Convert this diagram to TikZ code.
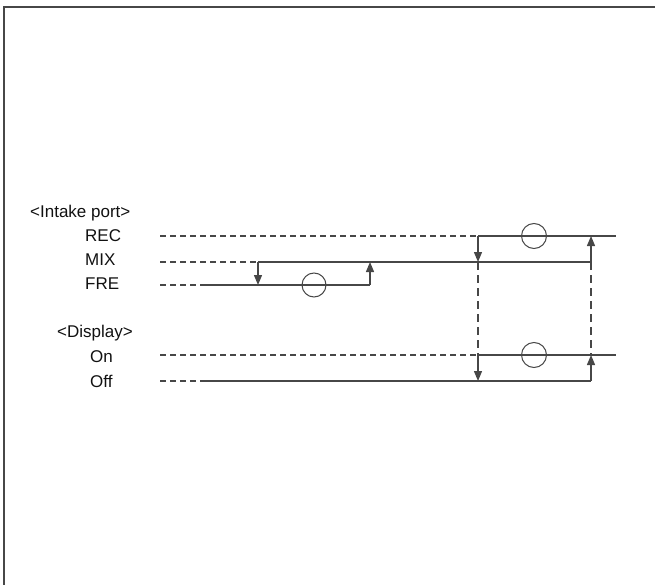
\documentclass[tikz,border=0pt]{standalone}
\usepackage{fontspec}
\setmainfont{Liberation Sans}
\usetikzlibrary{arrows.meta}
\definecolor{ln}{HTML}{474747}
\definecolor{tx}{HTML}{111111}
\tikzset{
  lbl/.style={anchor=west, inner sep=0pt, text=tx, font=\fontsize{17}{19}\selectfont},
  sig/.style={draw=ln, line width=1.3pt},
  dsh/.style={draw=ln, line width=1.3pt, dash pattern=on 6pt off 4pt},
  vdsh/.style={draw=ln, line width=1.3pt, dash pattern=on 8pt off 5pt},
  arr/.style={sig, -{Triangle[width=8pt,length=10pt]}},
  ring/.style={draw=ln, line width=1pt},
}
\begin{document}
\begin{tikzpicture}[x=1pt,y=-1pt]
\useasboundingbox (0,0) rectangle (655,585);
% frame
\draw[draw=ln, line width=1.6pt] (4,585) -- (4,7) -- (655,7);
% labels
\node[lbl] (tint) at (30,213) {<Intake port>};
\node[lbl] (trec) at (85,236) {REC};
\node[lbl] (tmix) at (85,260) {MIX};
\node[lbl] (tfre) at (85,284) {FRE};
\node[lbl] (tdis) at (57,333) {<Display>};
\node[lbl] (ton) at (90,357) {On};
\node[lbl] (toff) at (90,381) {Off};
% coordinates
\coordinate (r0) at (160,236); \coordinate (r1) at (478,236); \coordinate (r2) at (591,236); \coordinate (r3) at (616,236);
\coordinate (m0) at (160,262); \coordinate (m1) at (258,262); \coordinate (m2) at (370,262); \coordinate (m3) at (478,262); \coordinate (m4) at (591,262);
\coordinate (f0) at (160,285); \coordinate (f1) at (200,285); \coordinate (f2) at (258,285); \coordinate (f3) at (370,285);
\coordinate (o0) at (160,355); \coordinate (o1) at (478,355); \coordinate (o2) at (591,355); \coordinate (o3) at (616,355);
\coordinate (x0) at (160,381); \coordinate (x1) at (200,381); \coordinate (x2) at (478,381); \coordinate (x3) at (591,381);
% intake port
\draw[dsh] (r0) -- (r1);
\draw[sig] (r1) -- (r3);
\draw[dsh] (m0) -- (m1);
\draw[sig] (m1) -- (m4);
\draw[dsh] (f0) -- (f1);
\draw[sig] (f1) -- (f3);
\draw[arr] (m1) -- (f2);
\draw[arr] (f3) -- (m2);
\draw[arr] (r1) -- (m3);
\draw[arr] (m4) -- (r2);
% display
\draw[dsh] (o0) -- (o1);
\draw[sig] (o1) -- (o3);
\draw[dsh] (x0) -- (x1);
\draw[sig] (x1) -- (x3);
\draw[arr] (o1) -- (x2);
\draw[arr] (x3) -- (o2);
% dashed links
\draw[vdsh] (m3) -- (o1);
\draw[vdsh] (m4) -- (o2);
% circles
\node[ring, circle, minimum size=24pt, inner sep=0pt] (c1) at (314,285) {};
\node[ring, circle, minimum size=25pt, inner sep=0pt] (c2) at (534,236) {};
\node[ring, circle, minimum size=25pt, inner sep=0pt] (c3) at (534,355) {};
\end{tikzpicture}
\end{document}
